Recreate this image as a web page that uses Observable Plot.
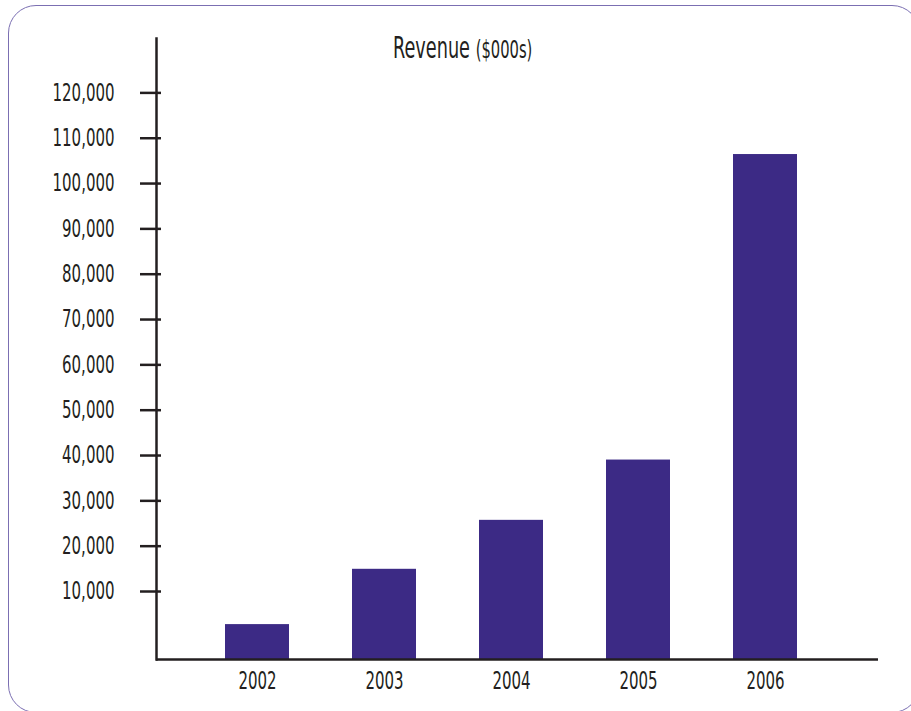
<!DOCTYPE html>
<html>
<head>
<meta charset="utf-8">
<script src="https://cdn.jsdelivr.net/npm/d3@7"></script>
<script src="https://cdn.jsdelivr.net/npm/@observablehq/plot@0.6"></script>
<style>
  html, body { margin: 0; padding: 0; background: #fff; overflow: hidden; }
  #wrap { position: relative; width: 911px; height: 711px; overflow: hidden; }
  #border { position: absolute; left: 8px; top: 5px; width: 912px; height: 708px;
    border: 1.5px solid #7b6fb2; border-radius: 28px; box-sizing: border-box; }
  #chart { position: absolute; left: 0; top: 0; }
  #title { position: absolute; left: 393px; top: 33px; font-family: "DejaVu Sans Condensed", "DejaVu Sans", sans-serif;
    color: #231f20; font-size: 30px; white-space: nowrap; transform-origin: left top; line-height: 1; }
  #title span.sub { font-size: 25px; }
</style>
</head>
<body>
<div id="wrap">
  <div id="border"></div>
  <div id="chart"></div>
  <div id="title"><span id="t1">Revenue</span> <span class="sub">($000s)</span></div>
</div>
<script>
const years = ["2002", "2003", "2004", "2005", "2006"];
const revenue = [2700, 14900, 25700, 39000, 106400];
const yTicks = [10000, 20000, 30000, 40000, 50000, 60000, 70000, 80000, 90000, 100000, 110000, 120000];
const yMin = -5000;
const yMax = 132000;

const data = years.map((y, i) => ({year: y, value: revenue[i]}));
const font = '"DejaVu Sans Condensed", "DejaVu Sans", sans-serif';
const ink = "#231f20";

const chart = Plot.plot({
  width: 911,
  height: 711,
  marginLeft: 156,
  marginRight: 33,
  marginTop: 38,
  marginBottom: 52,
  style: {fontFamily: font, color: ink, background: "transparent"},
  x: {domain: years, range: [192, 830], paddingInner: 0.5, paddingOuter: 0.25, label: null},
  y: {domain: [yMin, yMax], label: null},
  marks: [
    Plot.barY(data, {x: "year", y1: yMin, y2: "value", fill: "#3c2a85"}),
    Plot.ruleY([yMin], {stroke: ink, strokeWidth: 2.5}),
    Plot.frame({anchor: "left", stroke: ink, strokeWidth: 2.5}),
    Plot.axisY(yTicks, {tickSize: 21, dx: 5, tickPadding: 26, strokeWidth: 2.5, stroke: ink,
      tickFormat: d3.format(","), fontSize: 24, fill: ink, label: null}),
    Plot.axisX({tickSize: 0, tickPadding: 12, fontSize: 24, fill: ink, label: null})
  ]
});
document.getElementById("chart").appendChild(chart);

// Condense the labels horizontally to mimic the narrow typeface of the original
const labels = chart.querySelectorAll('g[aria-label$="tick label"] text');
let ref = null;
labels.forEach(t => { if (t.textContent === "120,000") ref = t; });
const f = ref ? 62 / ref.getComputedTextLength() : 0.72;
labels.forEach(t => {
  const tr = t.getAttribute("transform") || "";
  t.setAttribute("transform", tr + ` scale(${f},1)`);
});
const title = document.getElementById("title");
const w = document.getElementById("t1").getBoundingClientRect().width;
title.style.transform = `scaleX(${77 / w})`;
</script>
</body>
</html>
